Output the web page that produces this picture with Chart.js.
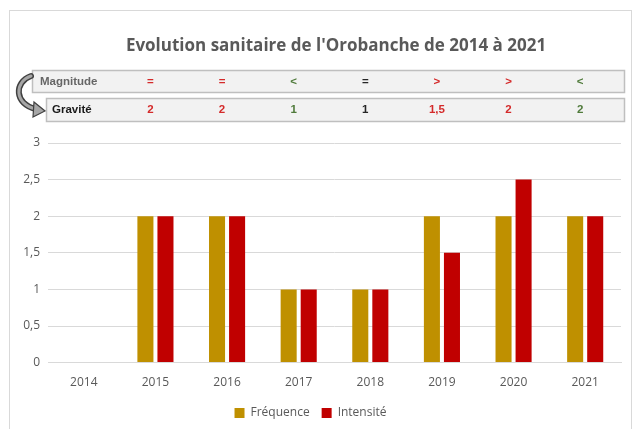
<!DOCTYPE html>
<html>
<head>
<meta charset="utf-8">
<script src="https://cdn.jsdelivr.net/npm/chart.js@4"></script>
<style>
  body { margin: 0; background: #fff; }
  #frame { position: absolute; left: 9px; top: 10px; width: 621px; height: 440px; border: 1px solid #d9d9d9; }
  #wrap { position: absolute; left: 0; top: 0; width: 634px; height: 429px; }
</style>
</head>
<body>
<div id="frame"></div>
<div id="wrap"><canvas id="orobancheChart" width="634" height="429"></canvas></div>
<script>
// data
const years = ['2014', '2015', '2016', '2017', '2018', '2019', '2020', '2021'];
const frequence = [0, 2, 2, 1, 1, 2, 2, 2];
const intensite = [0, 2, 2, 1, 1, 1.5, 2.5, 2];
const magnitude = ['', '=', '=', '<', '=', '>', '>', '<'];
const magnitudeTone = ['', 'red', 'red', 'green', 'black', 'red', 'red', 'green'];
const gravite = ['', '2', '2', '1', '1', '1,5', '2', '2'];
const graviteTone = ['', 'red', 'red', 'green', 'black', 'red', 'red', 'green'];

const toneColor = { red: '#d42a2a', green: '#4f7a3a', black: '#262626' };

// title + magnitude / gravité rows
const headerPlugin = {
  id: 'header',
  beforeDraw: (chart) => {
    const ctx = chart.ctx;
    const x = chart.scales.x;
    ctx.save();

    // title
    ctx.fillStyle = '#595959';
    ctx.font = 'bold 17px "Open Sans"';
    ctx.textAlign = 'center';
    ctx.textBaseline = 'middle';
    ctx.fillText("Evolution sanitaire de l'Orobanche de 2014 à 2021", 336, 46);

    // row boxes
    function box(x0, y0, x1, y1) {
      ctx.fillStyle = '#f2f2f2';
      ctx.fillRect(x0, y0, x1 - x0, y1 - y0);
      ctx.strokeStyle = '#bfbfbf';
      ctx.lineWidth = 1.5;
      ctx.strokeRect(x0 + 0.5, y0 + 0.5, x1 - x0, y1 - y0);
    }
    box(32, 70, 624, 92);
    box(46, 98, 624, 121);

    ctx.font = 'bold 11.5px "Liberation Sans"';
    ctx.textAlign = 'left';
    ctx.fillStyle = '#666666';
    ctx.fillText('Magnitude', 40, 82);
    ctx.fillStyle = '#1a1a1a';
    ctx.fillText('Gravité', 52, 110);

    ctx.textAlign = 'center';
    for (let i = 0; i < years.length; i++) {
      const px = x.getPixelForValue(i) - 5;
      if (magnitude[i]) {
        ctx.fillStyle = toneColor[magnitudeTone[i]];
        ctx.fillText(magnitude[i], px, 82);
      }
      if (gravite[i]) {
        ctx.fillStyle = toneColor[graviteTone[i]];
        ctx.fillText(gravite[i], px, 110);
      }
    }

    // curved arrow from Magnitude to Gravité
    ctx.beginPath();
    ctx.moveTo(31, 76);
    ctx.bezierCurveTo(14, 82, 14, 104, 36, 109);
    ctx.lineCap = 'round';
    ctx.strokeStyle = '#404040';
    ctx.lineWidth = 6;
    ctx.stroke();
    ctx.strokeStyle = '#a6a6a6';
    ctx.lineWidth = 3;
    ctx.stroke();
    ctx.beginPath();
    ctx.moveTo(34, 102);
    ctx.lineTo(45, 111);
    ctx.lineTo(33, 117);
    ctx.closePath();
    ctx.fillStyle = '#a6a6a6';
    ctx.fill();
    ctx.strokeStyle = '#404040';
    ctx.lineWidth = 1.2;
    ctx.stroke();
    ctx.restore();
  }
};

const config = {
  type: 'bar',
  data: {
    labels: years,
    datasets: [
      { label: 'Fréquence', data: frequence, backgroundColor: '#bf9000',
        categoryPercentage: 0.56, barPercentage: 0.8 },
      { label: 'Intensité', data: intensite, backgroundColor: '#c00000',
        categoryPercentage: 0.56, barPercentage: 0.8 }
    ]
  },
  options: {
    responsive: false,
    animation: false,
    layout: { padding: { top: 143, left: 0, right: 13, bottom: 0 } },
    scales: {
      x: {
        grid: { display: false },
        border: { color: '#d9d9d9' },
        ticks: { color: '#595959', font: { family: '"Open Sans"', size: 12 }, padding: 5 }
      },
      y: {
        min: 0, max: 3,
        grid: { color: '#d9d9d9', drawTicks: false },
        border: { display: false },
        afterFit: (scale) => { scale.width = 48; },
        ticks: {
          stepSize: 0.5, padding: 8, color: '#595959',
          font: { family: '"Open Sans"', size: 12 },
          callback: (v) => String(v).replace('.', ',')
        }
      }
    },
    plugins: {
      legend: {
        position: 'bottom',
        labels: { boxWidth: 10, boxHeight: 10, padding: 12, color: '#595959',
          font: { family: '"Open Sans"', size: 12 } }
      },
      tooltip: { enabled: false }
    }
  },
  plugins: [headerPlugin]
};

const orobancheChart = new Chart(document.getElementById('orobancheChart'), config);
</script>
</body>
</html>
